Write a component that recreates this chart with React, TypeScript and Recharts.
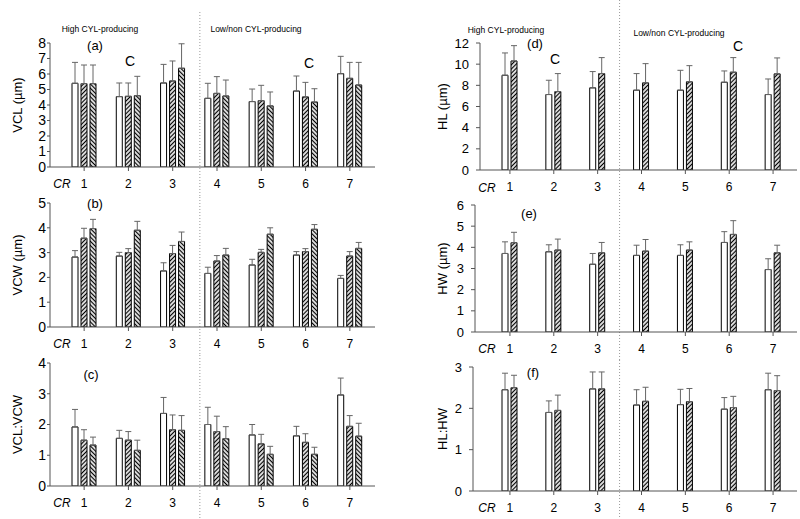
import React from 'react'
import { BarChart, Bar, XAxis, YAxis, ErrorBar, ReferenceLine } from 'recharts'

// ── Data ─────────────────────────────────────────────────────────────

const CR = ['1', '2', '3', '4', '5', '6', '7']

// (a) VCL (µm): three bars per strain
const vclMean1 = [5.4, 4.54, 5.42, 4.43, 4.22, 4.9, 6.02]
const vclSd1 = [1.35, 0.88, 1.2, 0.97, 0.81, 0.97, 1.12]
const vclMean2 = [5.38, 4.56, 5.55, 4.75, 4.28, 4.52, 5.72]
const vclSd2 = [1.2, 0.86, 1.29, 1.08, 0.99, 0.94, 1.03]
const vclMean3 = [5.38, 4.6, 6.37, 4.58, 3.94, 4.19, 5.29]
const vclSd3 = [1.2, 1.25, 1.58, 1.03, 0.9, 0.86, 1.46]

// (b) VCW (µm)
const vcwMean1 = [2.82, 2.86, 2.26, 2.16, 2.5, 2.9, 1.96]
const vcwSd1 = [0.26, 0.15, 0.33, 0.25, 0.23, 0.14, 0.12]
const vcwMean2 = [3.58, 3.0, 2.96, 2.66, 3.01, 3.04, 2.86]
const vcwSd2 = [0.4, 0.16, 0.33, 0.22, 0.12, 0.12, 0.18]
const vcwMean3 = [3.97, 3.9, 3.45, 2.9, 3.74, 3.94, 3.17]
const vcwSd3 = [0.37, 0.36, 0.38, 0.27, 0.26, 0.19, 0.24]

// (c) VCL:VCW
const ratioMean1 = [1.92, 1.55, 2.36, 2.0, 1.66, 1.63, 2.96]
const ratioSd1 = [0.57, 0.26, 0.52, 0.56, 0.34, 0.31, 0.55]
const ratioMean2 = [1.49, 1.49, 1.83, 1.77, 1.37, 1.42, 1.94]
const ratioSd2 = [0.34, 0.28, 0.48, 0.5, 0.31, 0.28, 0.35]
const ratioMean3 = [1.33, 1.16, 1.81, 1.54, 1.03, 1.03, 1.62]
const ratioSd3 = [0.26, 0.33, 0.48, 0.39, 0.26, 0.23, 0.42]

// (d) HL (µm): two bars per strain
const hlMean1 = [8.95, 7.13, 7.76, 7.54, 7.54, 8.29, 7.13]
const hlSd1 = [2.11, 1.35, 1.54, 1.57, 1.88, 1.07, 1.47]
const hlMean2 = [10.3, 7.41, 9.11, 8.23, 8.33, 9.24, 9.08]
const hlSd2 = [1.45, 1.7, 1.51, 1.82, 1.53, 1.38, 1.51]

// (e) HW (µm)
const hwMean1 = [3.71, 3.79, 3.2, 3.62, 3.62, 4.23, 2.95]
const hwSd1 = [0.55, 0.33, 0.51, 0.48, 0.5, 0.51, 0.51]
const hwMean2 = [4.22, 3.87, 3.74, 3.82, 3.87, 4.61, 3.74]
const hwSd2 = [0.49, 0.52, 0.49, 0.55, 0.39, 0.65, 0.36]

// (f) HL:HW
const hlhwMean1 = [2.45, 1.9, 2.47, 2.08, 2.09, 1.98, 2.45]
const hlhwSd1 = [0.4, 0.28, 0.41, 0.37, 0.37, 0.28, 0.4]
const hlhwMean2 = [2.5, 1.95, 2.47, 2.17, 2.16, 2.02, 2.43]
const hlhwSd2 = [0.3, 0.37, 0.41, 0.34, 0.32, 0.27, 0.36]

const TICKS_A = [0, 1, 2, 3, 4, 5, 6, 7, 8]
const TICKS_B = [0, 1, 2, 3, 4, 5]
const TICKS_C = [0, 1, 2, 3, 4]
const TICKS_D = [0, 2, 4, 6, 8, 10, 12]
const TICKS_E = [0, 1, 2, 3, 4, 5, 6]
const TICKS_F = [0, 1, 2, 3]

// ── Helpers ──────────────────────────────────────────────────────────

const FONT = '"Liberation Sans", Arial, sans-serif'
const FILLS = ['#ffffff', 'url(#hatchFwd)', 'url(#hatchBack)']
const AXIS = '#555'

// one row per strain, means as m0..mN, upward-only error as e0..eN
function buildRows(series: [number[], number[]][]) {
  return CR.map((cr, i) => {
    const row: Record<string, any> = { cr }
    series.forEach(([mean, sd], k) => {
      row['m' + k] = mean[i]
      row['e' + k] = [0, sd[i]]
    })
    return row
  })
}

interface PanelProps {
  left: number
  top: number
  height: number
  marginTop: number
  marginLeft: number
  xAxisHeight: number
  yAxisWidth: number
  labelOffset: number
  padL: number
  padR: number
  marginRight: number
  ticks: number[]
  yLabel: string
  rows: Record<string, any>[]
  nSeries: number
  barGap: number
  yTickSize: number
  yTickMargin: number
  yFont: number
  lineDx: number
  lineFrom: number
}

function Panel(p: PanelProps) {
  return (
    <div style={{ position: 'absolute', left: p.left, top: p.top }}>
      <BarChart
        width={400}
        height={p.height}
        data={p.rows}
        margin={{ top: p.marginTop, right: p.marginRight, left: p.marginLeft, bottom: 0 }}
        barSize={6}
        barGap={p.barGap}
      >
        <XAxis
          dataKey="cr"
          height={p.xAxisHeight}
          padding={{ left: p.padL, right: p.padR }}
          axisLine={{ stroke: AXIS }}
          tickLine={{ stroke: AXIS }}
          tickSize={4}
          tickMargin={8}
          interval={0}
          tick={{ fill: '#000', fontSize: 12, fontFamily: FONT }}
        />
        <YAxis
          width={p.yAxisWidth}
          domain={[0, p.ticks[p.ticks.length - 1]]}
          ticks={p.ticks}
          interval={0}
          allowDataOverflow
          axisLine={{ stroke: AXIS }}
          tickLine={{ stroke: AXIS }}
          tickSize={p.yTickSize}
          tickMargin={p.yTickMargin}
          tick={{ fill: '#000', fontSize: p.yFont, fontFamily: FONT }}
          label={{
            value: p.yLabel,
            angle: -90,
            position: 'insideLeft',
            offset: p.labelOffset,
            style: { textAnchor: 'middle', fill: '#000', fontSize: 13, fontFamily: FONT },
          }}
        />
        {/* dotted divider between the high and low/non producing groups */}
        <ReferenceLine
          x="3"
          position="end"
          stroke="#999"
          shape={(s: any) => (
            <line
              x1={s.x1 + p.lineDx}
              x2={s.x2 + p.lineDx}
              y1={p.lineFrom}
              y2={p.height}
              stroke="#9a9a9a"
              strokeWidth={1}
              strokeDasharray="1 2"
            />
          )}
        />
        {Array.from({ length: p.nSeries }).map((_, k) => (
          <Bar
            key={k}
            dataKey={'m' + k}
            fill={FILLS[k]}
            stroke="#000"
            strokeWidth={1}
            isAnimationActive={false}
          >
            <ErrorBar dataKey={'e' + k} width={3} stroke="#666" strokeWidth={1} direction="y" />
          </Bar>
        ))}
      </BarChart>
    </div>
  )
}

function Note({ x, y, size, children, italic }: any) {
  return (
    <div
      style={{
        position: 'absolute',
        left: x,
        top: y,
        transform: 'translate(-50%, -50%)',
        fontFamily: FONT,
        fontSize: size,
        lineHeight: 1,
        whiteSpace: 'nowrap',
        fontStyle: italic ? 'italic' : 'normal',
        color: '#000',
      }}
    >
      {children}
    </div>
  )
}

// ── Component ────────────────────────────────────────────────────────

export default function App() {
  const rowsA = buildRows([[vclMean1, vclSd1], [vclMean2, vclSd2], [vclMean3, vclSd3]])
  const rowsB = buildRows([[vcwMean1, vcwSd1], [vcwMean2, vcwSd2], [vcwMean3, vcwSd3]])
  const rowsC = buildRows([[ratioMean1, ratioSd1], [ratioMean2, ratioSd2], [ratioMean3, ratioSd3]])
  const rowsD = buildRows([[hlMean1, hlSd1], [hlMean2, hlSd2]])
  const rowsE = buildRows([[hwMean1, hwSd1], [hwMean2, hwSd2]])
  const rowsF = buildRows([[hlhwMean1, hlhwSd1], [hlhwMean2, hlhwSd2]])

  const leftCol = {
    left: 0, marginLeft: 10, yAxisWidth: 40, labelOffset: 7, padL: 12, padR: 3, marginRight: 25,
    nSeries: 3, barGap: 3, yTickSize: 3, yTickMargin: 1, yFont: 14, lineDx: 5,
  }
  const rightCol = {
    left: 400, yAxisWidth: 50, padR: 2, marginRight: 3,
    nSeries: 2, barGap: 3, yTickSize: 4, yTickMargin: 7, yFont: 13, lineDx: 0,
  }

  return (
    <div style={{ position: 'absolute', left: 0, top: 0, width: 800, height: 519, background: '#fff', overflow: 'hidden' }}>
      <svg width={0} height={0} style={{ position: 'absolute' }}>
        <defs>
          <pattern id="hatchFwd" patternUnits="userSpaceOnUse" width="3" height="3" patternTransform="rotate(45)">
            <rect width="3" height="3" fill="#fff" />
            <line x1="1.5" y1="0" x2="1.5" y2="3" stroke="#000" strokeWidth="1.3" />
          </pattern>
          <pattern id="hatchBack" patternUnits="userSpaceOnUse" width="3" height="3" patternTransform="rotate(-45)">
            <rect width="3" height="3" fill="#fff" />
            <line x1="1.5" y1="0" x2="1.5" y2="3" stroke="#000" strokeWidth="1.3" />
          </pattern>
        </defs>
      </svg>

      {/* left column */}
      <Panel {...leftCol} top={0} height={197} marginTop={43} xAxisHeight={30} ticks={TICKS_A} yLabel="VCL (µm)" rows={rowsA} lineFrom={12} />
      <Panel {...leftCol} top={187} height={168} marginTop={16} xAxisHeight={28} ticks={TICKS_B} yLabel="VCW (µm)" rows={rowsB} lineFrom={10} />
      <Panel {...leftCol} top={345} height={174} marginTop={18} xAxisHeight={33} ticks={TICKS_C} yLabel="VCL:VCW" rows={rowsC} lineFrom={10} />

      {/* right column */}
      <Panel {...rightCol} top={0} height={200} marginTop={43} xAxisHeight={30} marginLeft={30} labelOffset={12} padL={8} ticks={TICKS_D} yLabel="HL (µm)" rows={rowsD} lineFrom={0} />
      <Panel {...rightCol} top={190} height={170} marginTop={15} xAxisHeight={28} marginLeft={25} labelOffset={17} padL={13} ticks={TICKS_E} yLabel="HW (µm)" rows={rowsE} lineFrom={10} />
      <Panel {...rightCol} top={350} height={169} marginTop={17} xAxisHeight={28} marginLeft={23} labelOffset={19} padL={15} ticks={TICKS_F} yLabel="HL:HW" rows={rowsF} lineFrom={10} />

      {/* group headings */}
      <Note x={100} y={29} size={8.5}>High CYL-producing</Note>
      <Note x={256} y={29} size={8.5}>Low/non CYL-producing</Note>
      <Note x={506} y={30} size={8.5}>High CYL-producing</Note>
      <Note x={679} y={33} size={8.5}>Low/non CYL-producing</Note>

      {/* panel letters and markers */}
      <Note x={95} y={45} size={13}>(a)</Note>
      <Note x={130} y={61} size={14}>C</Note>
      <Note x={309} y={63} size={14}>C</Note>
      <Note x={95} y={203} size={13}>(b)</Note>
      <Note x={91} y={374} size={13}>(c)</Note>
      <Note x={535} y={43} size={13}>(d)</Note>
      <Note x={555} y={59} size={14}>C</Note>
      <Note x={738} y={46} size={14}>C</Note>
      <Note x={529} y={213} size={13}>(e)</Note>
      <Note x={533} y={372} size={13}>(f)</Note>

      {/* CR axis captions */}
      <Note x={62} y={184} size={12} italic>CR</Note>
      <Note x={62} y={344} size={12} italic>CR</Note>
      <Note x={62} y={503} size={12} italic>CR</Note>
      <Note x={487} y={188} size={12} italic>CR</Note>
      <Note x={487} y={349} size={12} italic>CR</Note>
      <Note x={487} y={508} size={12} italic>CR</Note>
    </div>
  )
}
